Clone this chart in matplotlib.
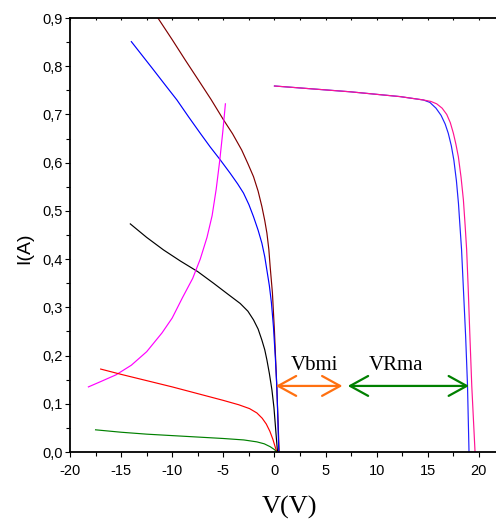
import numpy as np
import matplotlib
matplotlib.use('Agg')
import matplotlib.pyplot as plt
from matplotlib.ticker import MultipleLocator, FuncFormatter

plt.rcParams['font.family'] = ['Liberation Sans', 'DejaVu Sans']
plt.rcParams['axes.unicode_minus'] = False

# reverse-bias curves (left side)
brown_v = [-11.4, -10.0, -8.7, -7.43, -6.2, -4.99, -4.1, -3.2, -2.6, -2.05, -1.6, -1.23, -0.95,
           -0.74, -0.55, -0.42, -0.2, 0.0, 0.23, 0.46]
brown_i = [0.90, 0.855, 0.812, 0.771, 0.731, 0.689, 0.660, 0.626, 0.598, 0.571, 0.541, 0.509, 0.480,
           0.454, 0.420, 0.384, 0.330, 0.250, 0.135, 0.0]

blue_v = [-14.0, -12.0, -10.5, -9.54, -8.4, -7.26, -6.3, -5.31, -4.33, -3.6, -3.03, -2.5, -2.05,
          -1.6, -1.23, -0.95, -0.74, -0.5, -0.3, -0.1, 0.1, 0.23, 0.33, 0.42]
blue_i = [0.851, 0.797, 0.756, 0.730, 0.695, 0.661, 0.633, 0.606, 0.578, 0.556, 0.537, 0.513, 0.488,
          0.460, 0.433, 0.405, 0.377, 0.345, 0.310, 0.260, 0.190, 0.135, 0.070, 0.0]

black_v = [-14.1, -12.5, -10.85, -9.2, -7.5, -5.96, -4.6, -3.35, -2.6, -2.05, -1.6, -1.23, -0.95,
           -0.74, -0.5, -0.25, -0.05, 0.07, 0.2, 0.3]
black_i = [0.473, 0.445, 0.419, 0.396, 0.374, 0.350, 0.328, 0.308, 0.292, 0.274, 0.255, 0.232, 0.212,
           0.191, 0.163, 0.129, 0.092, 0.060, 0.025, 0.0]

mag_v = [-18.2, -17.0, -15.5, -14.0, -12.5, -11.0, -10.0, -9.0, -8.0, -7.26, -6.6, -6.1, -5.7,
         -5.35, -5.05, -4.8]
mag_i = [0.135, 0.146, 0.160, 0.180, 0.208, 0.247, 0.278, 0.320, 0.360, 0.400, 0.445, 0.490, 0.545,
         0.605, 0.665, 0.722]

red_v = [-17.0, -15.0, -12.5, -10.0, -7.5, -5.0, -3.5, -2.44, -1.72, -1.2, -0.8, -0.45, -0.15, 0.05, 0.23]
red_i = [0.172, 0.161, 0.148, 0.135, 0.121, 0.107, 0.098, 0.090, 0.081, 0.070, 0.058, 0.043, 0.026,
         0.012, 0.0]

green_v = [-17.5, -15.0, -12.5, -10.0, -7.5, -5.0, -3.0, -1.72, -1.0, -0.42, 0.0, 0.23]
green_i = [0.046, 0.041, 0.037, 0.034, 0.031, 0.028, 0.025, 0.021, 0.017, 0.011, 0.005, 0.0]

# forward curves (right side)
fwd_blue_v = [0.0, 7.4, 12.29, 14.57, 15.2, 15.8, 16.3, 16.7, 17.0, 17.3, 17.55, 17.8, 18.0,
              18.15, 18.3, 18.5, 18.7, 18.88, 19.03]
fwd_blue_i = [0.759, 0.747, 0.737, 0.730, 0.725, 0.713, 0.698, 0.680, 0.661, 0.635, 0.605, 0.562,
              0.515, 0.467, 0.420, 0.330, 0.240, 0.140, 0.0]

fwd_pink_v = [0.0, 7.4, 12.29, 14.57, 15.3, 15.87, 16.4, 16.85, 17.2, 17.5, 17.75, 17.99, 18.25,
              18.48, 18.65, 18.8, 18.95, 19.1, 19.3, 19.62]
fwd_pink_i = [0.759, 0.747, 0.737, 0.730, 0.727, 0.722, 0.713, 0.700, 0.683, 0.661, 0.638, 0.612,
              0.570, 0.523, 0.470, 0.419, 0.340, 0.250, 0.137, 0.0]

fig = plt.figure(figsize=(4.96, 5.23), dpi=100)
ax = fig.add_axes([70/496, 71/523, 1 - 70/496, 434/523])

lw = 0.85
ax.plot(brown_v, brown_i, color='#800000', lw=lw)
ax.plot(blue_v, blue_i, color='#0000ff', lw=lw)
ax.plot(black_v, black_i, color='black', lw=lw)
ax.plot(mag_v, mag_i, color='#ff00ff', lw=lw)
ax.plot(red_v, red_i, color='#ff0000', lw=lw)
ax.plot(green_v, green_i, color='#008000', lw=lw)
ax.plot(fwd_blue_v, fwd_blue_i, color='#2020ff', lw=lw)
ax.plot(fwd_pink_v, fwd_pink_i, color='#ff1493', lw=lw)

ax.set_xlim(-20, 21.67)
ax.set_ylim(0, 0.9)

ax.spines['right'].set_visible(False)
for s in ['left', 'bottom', 'top']:
    ax.spines[s].set_linewidth(1.3)

ax.xaxis.set_major_locator(MultipleLocator(5))
ax.xaxis.set_minor_locator(MultipleLocator(2.5))
ax.yaxis.set_major_locator(MultipleLocator(0.1))
ax.yaxis.set_minor_locator(MultipleLocator(0.05))
ax.yaxis.set_major_formatter(FuncFormatter(lambda v, p: f'{v:.1f}'.replace('.', ',')))

ax.tick_params(axis='x', which='both', direction='out', length=3.6, width=0.8, labelsize=10.5, pad=5)
ax.tick_params(axis='x', which='minor', length=3.0)
ax.tick_params(axis='y', which='both', direction='out', length=3.6, width=0.8, labelsize=10.5, pad=1.5)
ax.tick_params(axis='y', which='minor', length=3.0)
ax.tick_params(axis='x', which='both', top=True)
for t in ax.xaxis.get_major_ticks() + ax.xaxis.get_minor_ticks():
    t.tick2line.set_marker(3)
    t.tick2line.set_markersize(1.5)

# arrows and annotations
ax.annotate('', xy=(0.13, 0.137), xytext=(6.65, 0.137),
            arrowprops=dict(arrowstyle='<->,head_length=1,head_width=0.55', mutation_scale=13,
                            color='#ff7010', lw=1.6, shrinkA=0, shrinkB=0))
ax.annotate('', xy=(7.17, 0.137), xytext=(19.03, 0.137),
            arrowprops=dict(arrowstyle='<->,head_length=1,head_width=0.55', mutation_scale=13,
                            color='#008000', lw=1.6, shrinkA=0, shrinkB=0))
ax.text(3.9, 0.170, 'Vbmi', ha='center', va='baseline', family='Liberation Serif', fontsize=15)
ax.text(11.85, 0.170, 'VRma', ha='center', va='baseline', family='Liberation Serif', fontsize=15)

fig.text(289/496, 9/523, 'V(V)', ha='center', va='baseline', family='Liberation Serif', fontsize=19)
fig.text(25/496, 1 - 248/523, 'I(A)', ha='center', va='center', rotation=90, fontsize=14)

fig.savefig('out.png', dpi=100)
